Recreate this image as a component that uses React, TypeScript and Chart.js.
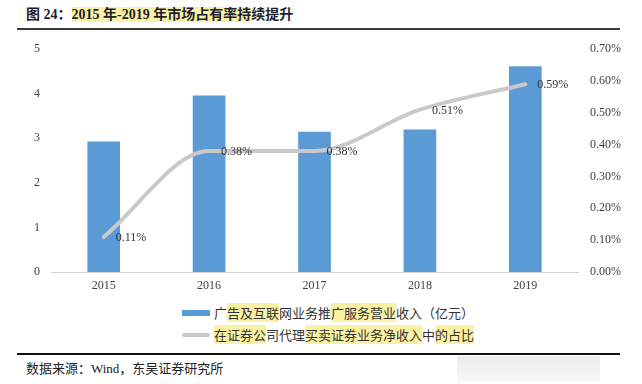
import React, { useEffect, useRef } from "react";
import { Chart, registerables } from "chart.js";

Chart.register(...registerables);

const years = ["2015", "2016", "2017", "2018", "2019"];
const revenue = [2.93, 3.96, 3.15, 3.2, 4.62];
const share = [0.11, 0.38, 0.38, 0.51, 0.59];
const leftTicks = [0, 1, 2, 3, 4, 5];
const rightTicks = [0, 0.1, 0.2, 0.3, 0.4, 0.5, 0.6, 0.7];

const barLabel = "广告及互联网业务推广服务营业收入（亿元）";
const lineLabel = "在证券公司代理买卖证券业务净收入中的占比";

const SERIF = '"Liberation Serif", "DejaVu Serif", serif';
const CJK = '"Liberation Serif", "Noto Sans CJK SC", sans-serif';
const HL = "#fbf1a3";

const labelPlugin = {
  id: "pointLabels",
  afterDatasetsDraw(chart: any) {
    const ctx = chart.ctx;
    const meta = chart.getDatasetMeta(1);
    ctx.save();
    ctx.font = `12px ${SERIF}`;
    ctx.fillStyle = "#333333";
    ctx.textAlign = "left";
    ctx.textBaseline = "middle";
    meta.data.forEach((pt: any, i: number) => {
      ctx.fillText(share[i].toFixed(2) + "%", pt.x + 12, pt.y + 1);
    });
    ctx.restore();
  },
};

function Hl({ children }: { children: React.ReactNode }) {
  return <span style={{ background: HL }}>{children}</span>;
}

export default function App() {
  const ref = useRef<HTMLCanvasElement | null>(null);

  useEffect(() => {
    if (!ref.current) return;
    const chart = new Chart(ref.current, {
      type: "bar",
      data: {
        labels: years,
        datasets: [
          {
            type: "bar",
            label: barLabel,
            data: revenue,
            backgroundColor: "#5b9bd5",
            barPercentage: 0.31,
            categoryPercentage: 1,
            yAxisID: "y",
            order: 2,
          },
          {
            type: "line",
            label: lineLabel,
            data: share,
            borderColor: "#c9c9c9",
            borderWidth: 4,
            pointRadius: 0,
            cubicInterpolationMode: "monotone",
            borderCapStyle: "round",
            borderJoinStyle: "round",
            yAxisID: "y1",
            order: 1,
          } as any,
        ],
      },
      options: {
        animation: false,
        responsive: false,
        maintainAspectRatio: false,
        layout: { padding: { top: 17, bottom: 0, left: 0, right: 0 } },
        plugins: { legend: { display: false }, tooltip: { enabled: false } },
        scales: {
          x: {
            grid: { display: false, drawTicks: false },
            border: { display: true, color: "#d0d0d0", width: 1 },
            ticks: {
              padding: 7,
              color: "#404040",
              font: { family: SERIF, size: 12 },
            },
            afterFit: (s: any) => {
              s.height = 28;
            },
          },
          y: {
            position: "left",
            min: 0,
            max: 5,
            afterBuildTicks: (s: any) => {
              s.ticks = leftTicks.map((v) => ({ value: v }));
            },
            grid: { display: false, drawTicks: false },
            border: { display: false },
            ticks: {
              padding: 11,
              color: "#404040",
              font: { family: SERIF, size: 12 },
              callback: (v: any) => String(v),
            },
            afterFit: (s: any) => {
              s.width = 51;
            },
          },
          y1: {
            position: "right",
            min: 0,
            max: 0.7,
            afterBuildTicks: (s: any) => {
              s.ticks = rightTicks.map((v) => ({ value: v }));
            },
            grid: { display: false, drawTicks: false },
            border: { display: false },
            ticks: {
              padding: 12,
              color: "#404040",
              font: { family: SERIF, size: 12 },
              callback: (v: any) => Number(v).toFixed(2) + "%",
            },
            afterFit: (s: any) => {
              s.width = 64;
            },
          },
        },
      },
      plugins: [labelPlugin],
    });
    return () => chart.destroy();
  }, []);

  return (
    <div
      style={{
        position: "absolute",
        left: 0,
        top: 0,
        width: 642,
        height: 384,
        background: "#ffffff",
        overflow: "hidden",
        fontFamily: CJK,
      }}
    >
      <div
        style={{
          position: "absolute",
          left: 26,
          top: 6,
          fontSize: 14,
          fontWeight: 700,
          lineHeight: "18px",
          color: "#1e1e2e",
          whiteSpace: "nowrap",
        }}
      >
        图 24：<Hl>2015 年-2019 年市场占有率持</Hl>续提升
      </div>
      <div
        style={{
          position: "absolute",
          left: 17,
          top: 28,
          width: 603,
          height: 2,
          background: "#3a3a3a",
        }}
      />
      <canvas
        ref={ref}
        width={642}
        height={270}
        style={{ position: "absolute", left: 0, top: 30, width: 642, height: 270 }}
      />
      <div style={{ position: "absolute", left: 182, top: 310, width: 28, height: 6, background: "#5b9bd5" }} />
      <div
        style={{
          position: "absolute",
          left: 214,
          top: 304,
          fontSize: 13,
          lineHeight: "18px",
          color: "#333",
          whiteSpace: "nowrap",
          fontFamily: '"Noto Sans CJK SC", sans-serif',
        }}
      >
        广<Hl>告及互联</Hl>网业务推<Hl>广服务营业</Hl>收入（亿元）
      </div>
      <div style={{ position: "absolute", left: 182, top: 333, width: 28, height: 4, background: "#c9c9c9", borderRadius: 2 }} />
      <div
        style={{
          position: "absolute",
          left: 214,
          top: 326,
          fontSize: 13,
          lineHeight: "18px",
          color: "#333",
          whiteSpace: "nowrap",
          fontFamily: '"Noto Sans CJK SC", sans-serif',
        }}
      >
        <Hl>在证券公</Hl>司代理<Hl>买卖证券业务净收入</Hl>中<Hl>的占比</Hl>
      </div>
      <div
        style={{
          position: "absolute",
          left: 17,
          top: 353,
          width: 603,
          height: 2,
          background: "#111",
        }}
      />
      <div
        style={{
          position: "absolute",
          left: 457,
          top: 356,
          width: 143,
          height: 26,
          background: "linear-gradient(to bottom, #ececec, #f7f7f7)",
        }}
      />
      <div
        style={{
          position: "absolute",
          left: 26,
          top: 360,
          fontSize: 13,
          lineHeight: "18px",
          color: "#222",
          whiteSpace: "nowrap",
        }}
      >
        数据来源：Wind，东吴证券研究所
      </div>
    </div>
  );
}
